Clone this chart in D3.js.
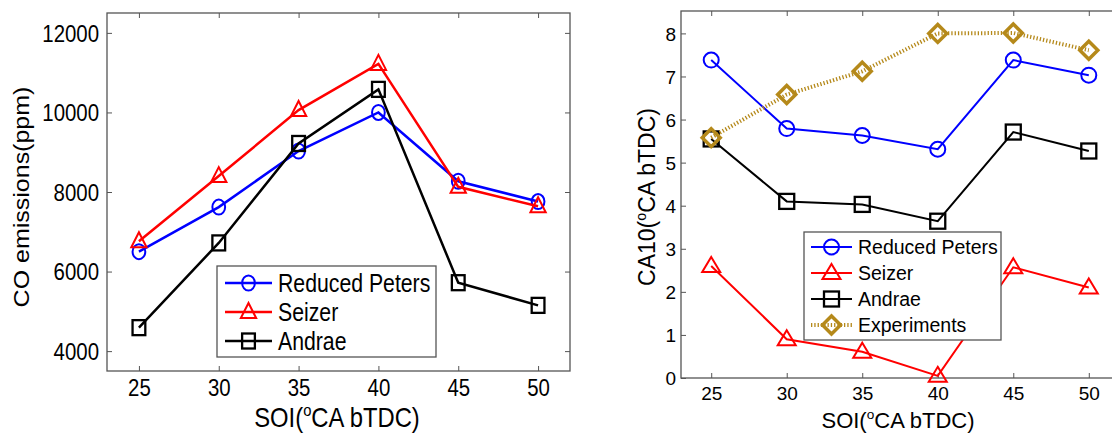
<!DOCTYPE html>
<html>
<head>
<meta charset="utf-8">
<script src="https://cdn.jsdelivr.net/npm/d3@7"></script>
<style>
  body { margin: 0; background: #fff; }
  svg text { font-family: "Liberation Sans", Arial, sans-serif; fill: #000; }
</style>
</head>
<body>
<div id="chart"></div>
<script>
// data
var soi = [25, 30, 35, 40, 45, 50];

var coPeters = [6500, 7620, 9030, 10000, 8270, 7760];
var coSeizer = [6760, 8400, 10060, 11220, 8130, 7640];
var coAndrae = [4590, 6720, 9220, 10580, 5720, 5150];

var caPeters = [7.38, 5.79, 5.63, 5.31, 7.38, 7.03];
var caSeizer = [2.6, 0.9, 0.61, 0.05, 2.57, 2.1];
var caAndrae = [5.55, 4.1, 4.03, 3.64, 5.71, 5.27];
var caExperiments = [5.58, 6.58, 7.12, 8.0, 8.01, 7.61];

var coTicks = [4000, 6000, 8000, 10000, 12000];
var caTicks = [0, 1, 2, 3, 4, 5, 6, 7, 8];

var W = 1112, H = 434;
var svg = d3.select("#chart").append("svg")
  .attr("width", W).attr("height", H);

var styles = {
  peters: {color: "#0000ff", marker: "circle", label: "Reduced Peters"},
  seizer: {color: "#ff0000", marker: "triangle", label: "Seizer"},
  andrae: {color: "#000000", marker: "square", label: "Andrae"},
  exp: {color: "#b5891a", marker: "diamond", label: "Experiments", dash: "1.3,2"}
};

function drawMarker(g, type, x, y, color, s) {
  if (type == "circle") {
    g.append("ellipse").attr("cx", x).attr("cy", y).attr("rx", 7.5 * s).attr("ry", 7.5)
      .attr("fill", "none").attr("stroke", color).attr("stroke-width", 2);
  } else if (type == "triangle") {
    g.append("path")
      .attr("d", "M" + x + "," + (y - 9) + "L" + (x + 9 * s) + "," + (y + 6) + "L" + (x - 9 * s) + "," + (y + 6) + "Z")
      .attr("fill", "none").attr("stroke", color).attr("stroke-width", 2);
  } else if (type == "square") {
    g.append("rect").attr("x", x - 7.5 * s).attr("y", y - 7.5).attr("width", 15 * s).attr("height", 15)
      .attr("fill", "none").attr("stroke", color).attr("stroke-width", 2.3);
  } else if (type == "diamond") {
    g.append("path")
      .attr("d", "M" + x + "," + (y - 9) + "L" + (x + 9) + "," + y + "L" + x + "," + (y + 9) + "L" + (x - 9) + "," + y + "Z")
      .attr("fill", "none").attr("stroke", color).attr("stroke-width", 3.5);
  }
}

// text squeezed horizontally by sx (the left figure is a bit narrower than tall)
function label(g, x, y, size, sx, anchor, rot) {
  return g.append("text")
    .attr("transform", "translate(" + x + "," + y + ") scale(" + sx + ",1)" + (rot ? " rotate(-90)" : ""))
    .attr("text-anchor", anchor).style("font-size", size + "px");
}

function panel(opt) {
  var x = d3.scaleLinear().domain([23, 52]).range([opt.left, opt.right]);
  var y = d3.scaleLinear().domain(opt.ydomain).range([opt.bottom, opt.top]);
  var g = svg.append("g");
  var sx = opt.sx;

  // frame
  g.append("rect")
    .attr("x", opt.left).attr("y", opt.top)
    .attr("width", opt.right - opt.left).attr("height", opt.bottom - opt.top)
    .attr("fill", "none").attr("stroke", "#555").attr("stroke-width", 1.3);

  // ticks inside on all four sides, labels bottom and left
  var xAxis = g.append("g").attr("transform", "translate(0," + opt.bottom + ")")
    .call(d3.axisBottom(x).tickValues(soi).tickSize(-5).tickFormat(d3.format("d")));
  var yAxis = g.append("g").attr("transform", "translate(" + opt.left + ",0)")
    .call(d3.axisLeft(y).tickValues(opt.yticks).tickSize(-5).tickFormat(d3.format("d")));
  var xTop = g.append("g").attr("transform", "translate(0," + opt.top + ")")
    .call(d3.axisTop(x).tickValues(soi).tickSize(-5).tickFormat(""));
  var yRight = g.append("g").attr("transform", "translate(" + opt.right + ",0)")
    .call(d3.axisRight(y).tickValues(opt.yticks).tickSize(-5).tickFormat(""));
  [xAxis, yAxis, xTop, yRight].forEach(function(a) {
    a.select(".domain").remove();
    a.selectAll("line").attr("stroke", "#555");
  });
  xAxis.selectAll("text")
    .attr("y", opt.xtickBase).attr("dy", null)
    .attr("transform", "scale(" + sx + ",1)")
    .style("font-size", opt.tickSize + "px");
  yAxis.selectAll("text")
    .attr("x", -opt.ytickPad / sx).attr("dy", "0.35em")
    .attr("transform", "scale(" + sx + ",1)")
    .style("font-size", opt.tickSize + "px");

  // series
  opt.series.forEach(function(s) {
    var st = styles[s.key];
    var pts = soi.map(function(v, i) { return [x(v), y(s.values[i])]; });
    g.append("path")
      .attr("d", d3.line()(pts))
      .attr("fill", "none")
      .attr("stroke", st.color)
      .attr("stroke-width", st.dash ? 4 : opt.lw)
      .attr("stroke-dasharray", st.dash || null);
    pts.forEach(function(p) { drawMarker(g, st.marker, p[0], p[1], st.color, sx); });
  });

  // legend
  var lg = opt.legend;
  g.append("rect").attr("x", lg.x).attr("y", lg.y).attr("width", lg.w).attr("height", lg.h)
    .attr("fill", "#fff").attr("stroke", "#555").attr("stroke-width", 1.3);
  opt.series.forEach(function(s, i) {
    var st = styles[s.key];
    var cy = lg.y + lg.first + i * lg.step;
    g.append("line").attr("x1", lg.x + lg.l1).attr("x2", lg.x + lg.l2).attr("y1", cy).attr("y2", cy)
      .attr("stroke", st.color).attr("stroke-width", st.dash ? 4 : opt.lw)
      .attr("stroke-dasharray", st.dash || null);
    drawMarker(g, st.marker, lg.x + (lg.l1 + lg.l2) / 2, cy, st.color, sx);
    label(g, lg.x + lg.tx, cy + lg.size * 0.36, lg.size, sx, "start").text(st.label);
  });

  // axis titles
  var xt = label(g, opt.xt[0], opt.xt[1], opt.xt[2], sx, "middle");
  xt.append("tspan").text("SOI(");
  xt.append("tspan").attr("dy", -opt.xt[2] * 0.4).style("font-size", (opt.xt[2] * 0.62) + "px").text("o");
  xt.append("tspan").attr("dy", opt.xt[2] * 0.4).text("CA bTDC)");

  var yt = label(g, opt.yt[0], opt.yt[1], opt.yt[2], sx, "middle", true);
  opt.ytitle.forEach(function(part) {
    var t = yt.append("tspan").text(part.t);
    if (part.sup) t.attr("dy", -opt.yt[2] * 0.4).style("font-size", (opt.yt[2] * 0.62) + "px");
    if (part.after) t.attr("dy", opt.yt[2] * 0.4);
  });
}

panel({
  left: 107, right: 570, top: 13, bottom: 371,
  ydomain: [3500, 12500], yticks: coTicks,
  sx: 0.85, lw: 2.5, tickSize: 24, xtickBase: 25, ytickPad: 8,
  series: [
    {key: "peters", values: coPeters},
    {key: "seizer", values: coSeizer},
    {key: "andrae", values: coAndrae}
  ],
  legend: {x: 217, y: 266, w: 219, h: 91, first: 17, step: 29, l1: 8, l2: 55, tx: 61, size: 25},
  xt: [337, 427, 28],
  yt: [29, 197, 25],
  ytitle: [{t: "CO emissions(ppm)"}]
});

panel({
  left: 681, right: 1119, top: 11, bottom: 378,
  ydomain: [0, 8.52], yticks: caTicks,
  sx: 1, lw: 2, tickSize: 19, xtickBase: 22, ytickPad: 5,
  series: [
    {key: "peters", values: caPeters},
    {key: "seizer", values: caSeizer},
    {key: "andrae", values: caAndrae},
    {key: "exp", values: caExperiments}
  ],
  legend: {x: 804, y: 232, w: 197, h: 108, first: 15, step: 26, l1: 7, l2: 48, tx: 54, size: 19.5},
  xt: [898, 428, 22],
  yt: [655, 197, 23],
  ytitle: [{t: "CA10("}, {t: "o", sup: true}, {t: "CA bTDC)", after: true}]
});
</script>
</body>
</html>
